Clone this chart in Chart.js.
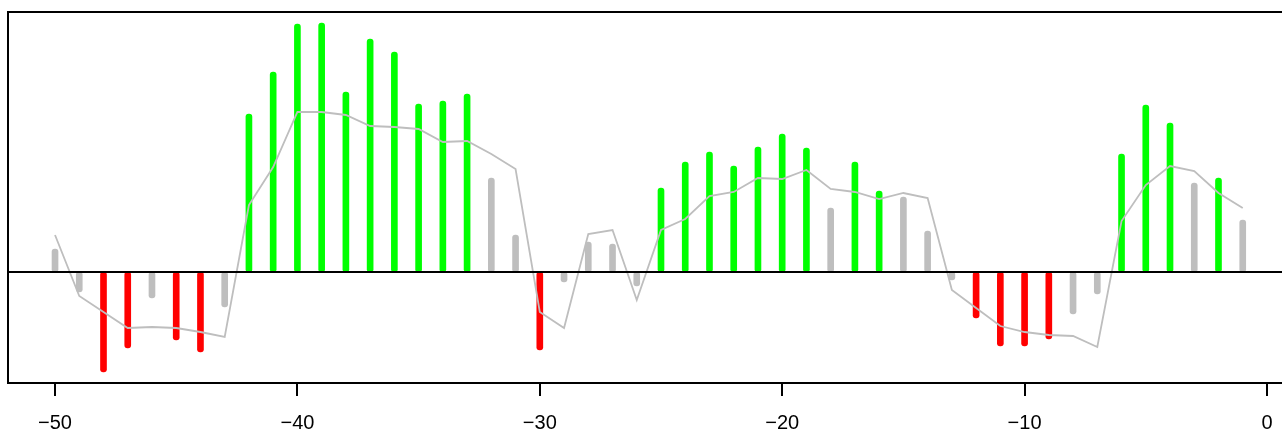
<!DOCTYPE html>
<html>
<head>
<meta charset="utf-8">
<script src="https://cdn.jsdelivr.net/npm/chart.js@4/dist/chart.umd.min.js"></script>
<style>
  html, body { margin: 0; padding: 0; background: #fff; overflow: hidden; }
  #wrap { width: 1282px; height: 430px; position: relative; }
</style>
</head>
<body>
<div id="wrap"><canvas id="myChart"></canvas></div>
<script>
// lag positions on the x axis
let lags = [-50, -49, -48, -47, -46, -45, -44, -43, -42, -41,
            -40, -39, -38, -37, -36, -35, -34, -33, -32, -31,
            -30, -29, -28, -27, -26, -25, -24, -23, -22, -21,
            -20, -19, -18, -17, -16, -15, -14, -13, -12, -11,
            -10, -9, -8, -7, -6, -5, -4, -3, -2, -1];

// bar heights
let barValues = [0.23, -0.20, -1.00, -0.76, -0.26, -0.68, -0.80, -0.35, 1.58, 2.00,
                 2.48, 2.49, 1.80, 2.33, 2.20, 1.68, 1.71, 1.78, 0.94, 0.37,
                 -0.78, -0.10, 0.30, 0.28, -0.14, 0.84, 1.10, 1.20, 1.06, 1.25,
                 1.38, 1.24, 0.64, 1.10, 0.81, 0.75, 0.41, -0.08, -0.46, -0.74,
                 -0.74, -0.67, -0.42, -0.22, 1.18, 1.67, 1.49, 0.89, 0.94, 0.52];

// bar signal: up / down / none
let barSignal = ['n', 'n', 'd', 'd', 'n', 'd', 'd', 'n', 'u', 'u',
                 'u', 'u', 'u', 'u', 'u', 'u', 'u', 'u', 'n', 'n',
                 'd', 'n', 'n', 'n', 'n', 'u', 'u', 'u', 'u', 'u',
                 'u', 'u', 'n', 'u', 'u', 'n', 'n', 'n', 'd', 'd',
                 'd', 'd', 'n', 'n', 'u', 'u', 'u', 'n', 'u', 'n'];

// smoothed line
let lineValues = [0.37, -0.24, -0.40, -0.56, -0.55, -0.56, -0.60, -0.65, 0.67, 1.05,
                  1.60, 1.60, 1.57, 1.46, 1.45, 1.43, 1.30, 1.31, 1.18, 1.03,
                  -0.40, -0.56, 0.38, 0.42, -0.28, 0.42, 0.53, 0.76, 0.80, 0.94,
                  0.93, 1.02, 0.83, 0.80, 0.73, 0.79, 0.74, -0.18, -0.36, -0.54,
                  -0.60, -0.63, -0.64, -0.75, 0.51, 0.87, 1.06, 1.01, 0.79, 0.64];

let xTicks = [-50, -40, -30, -20, -10, 0];

let signalColor = { u: '#00FF00', d: '#FF0000', n: '#BEBEBE' };

let fontFamily = '"Liberation Sans", Arial, Helvetica, sans-serif';

// frame (top, left, bottom) and the zero line, drawn like base graphics
let framePlugin = {
    id: 'frame',
    afterDatasetsDraw(chart) {
        const ctx = chart.ctx;
        const a = chart.chartArea;
        const y0 = chart.scales.y.getPixelForValue(0);
        ctx.save();
        ctx.strokeStyle = '#000';
        ctx.lineWidth = 2;
        ctx.beginPath();
        ctx.moveTo(a.left, y0);
        ctx.lineTo(a.right + 10, y0);
        ctx.stroke();
        ctx.beginPath();
        ctx.moveTo(a.right + 10, a.top);
        ctx.lineTo(a.left, a.top);
        ctx.lineTo(a.left, a.bottom);
        ctx.lineTo(a.right + 10, a.bottom);
        ctx.stroke();
        ctx.restore();
    }
};

let ctx = document.getElementById('myChart').getContext('2d');

let myChart = new Chart(ctx, {
    data: {
        datasets: [
            {
                type: 'line',
                order: 0,
                data: lags.map((x, i) => ({ x: x, y: lineValues[i] })),
                borderColor: '#BEBEBE',
                borderWidth: 1.8,
                pointRadius: 0,
                tension: 0,
                fill: false
            },
            {
                type: 'bar',
                order: 1,
                data: lags.map((x, i) => ({ x: x, y: barValues[i] })),
                backgroundColor: barSignal.map(s => signalColor[s]),
                barThickness: 6,
                borderRadius: 3,
                borderSkipped: false
            }
        ]
    },
    options: {
        responsive: true,
        maintainAspectRatio: false,
        animation: false,
        layout: { padding: { left: 8, top: 12, right: 0, bottom: 0 } },
        plugins: {
            legend: { display: false },
            tooltip: { enabled: false },
            title: { display: false }
        },
        scales: {
            x: {
                type: 'linear',
                offset: false,
                min: -51.94,
                max: 0.62,
                afterBuildTicks: (scale) => {
                    scale.ticks = xTicks.map(v => ({ value: v }));
                },
                afterFit: (scale) => {
                    scale.height = 47;
                    scale.paddingLeft = 0;
                    scale.paddingRight = 0;
                },
                border: { display: false },
                grid: {
                    offset: false,
                    drawOnChartArea: false,
                    drawTicks: true,
                    tickLength: 13,
                    color: '#000',
                    lineWidth: 2
                },
                ticks: {
                    color: '#000',
                    padding: 15,
                    maxRotation: 0,
                    autoSkip: false,
                    font: { family: fontFamily, size: 20 },
                    callback: (v) => v < 0 ? '\u2212' + Math.abs(v) : String(v)
                }
            },
            y: {
                display: false,
                min: -1.11,
                max: 2.60
            }
        }
    },
    plugins: [framePlugin]
});
</script>
</body>
</html>
